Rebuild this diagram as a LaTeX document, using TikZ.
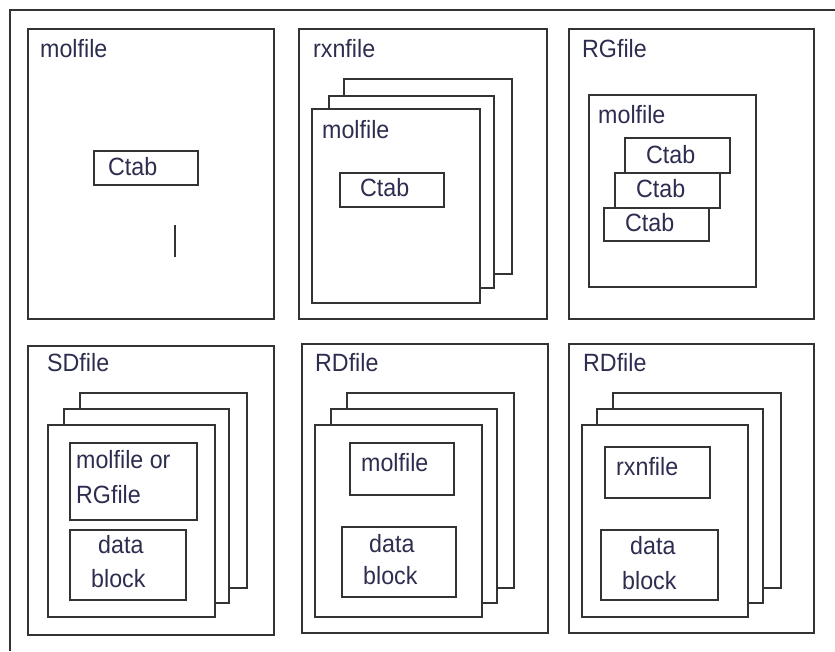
\documentclass[tikz,border=0pt]{standalone}
\usepackage{fontspec}
\setmainfont{Liberation Sans}[FakeStretch=0.93]
\definecolor{lncol}{RGB}{51,51,51}
\definecolor{txcol}{RGB}{45,45,80}
\tikzset{
  pbox/.style={draw=lncol, line width=1.9pt, inner sep=0pt, anchor=north west},
  sheet/.style={draw=lncol, line width=1.9pt},
  lbl/.style={inner sep=0pt, anchor=base west, text=txcol, font=\fontsize{25}{29}\selectfont},
}
\newcommand\mybox[5]{%
  \pgfmathsetmacro\bw{#4-#2}\pgfmathsetmacro\bh{#5-#3}%
  \node[pbox, minimum width=\bw pt, minimum height=\bh pt] (#1) at (#2,#3) {};}
\begin{document}
\begin{tikzpicture}[x=1pt,y=-1pt]
\useasboundingbox (0,0) rectangle (835,651);
% outer frame (only top and left visible)
\coordinate (fbl) at (10,651);
\coordinate (ftl) at (10,10);
\coordinate (ftr) at (835,10);
\draw[sheet] (fbl) -- (ftl) -- (ftr);

% ---- panel 1: molfile
\mybox{p1}{27}{28}{273}{318}
\node[lbl] (t1) at (40,57) {molfile};
\mybox{p1c}{93}{150}{197}{184}
\node[lbl] (t1c) at (108,175) {Ctab};
\coordinate (bar1) at (175,225);
\coordinate (bar2) at (175,257);
\draw[sheet] (bar1) -- (bar2);

% ---- panel 2: rxnfile
\mybox{p2}{298}{28}{546}{318}
\node[lbl] (t2) at (313,57) {rxnfile};
\draw[sheet] (344,96) -- (344,79) -- (512,79) -- (512,274) -- (494,274);
\draw[sheet] (329,108) -- (329,96) -- (494,96) -- (494,288) -- (479,288);
\mybox{p2f}{311}{108}{479}{302}
\node[lbl] (t2m) at (322,138) {molfile};
\mybox{p2c}{339}{172}{443}{206}
\node[lbl] (t2c) at (360,196) {Ctab};

% ---- panel 3: RGfile
\mybox{p3}{568}{28}{813}{318}
\node[lbl] (t3) at (582,57) {RGfile};
\mybox{p3m}{588}{94}{755}{286}
\node[lbl] (t3m) at (598,123) {molfile};
\mybox{p3a}{624}{137}{729}{172}
\mybox{p3b}{614}{172}{719}{207}
\mybox{p3c}{603}{207}{708}{240}
\node[lbl] (t3a) at (646,163) {Ctab};
\node[lbl] (t3b) at (636,197) {Ctab};
\node[lbl] (t3c) at (625,231) {Ctab};

% ---- panel 4: SDfile
\mybox{p4}{27}{345}{273}{634}
\node[lbl] (t4) at (47,371) {SDfile};
\draw[sheet] (80,409) -- (80,393) -- (247,393) -- (247,588) -- (229,588);
\draw[sheet] (64,424) -- (64,409) -- (229,409) -- (229,603) -- (214,603);
\mybox{p4f}{47}{424}{214}{616}
\mybox{p4m}{69}{442}{196}{519}
\node[lbl] (t4m1) at (76,468) {molfile or};
\node[lbl] (t4m2) at (76,503) {RGfile};
\mybox{p4d}{69}{529}{185}{599}
\node[lbl] (t4d1) at (98,553) {data};
\node[lbl] (t4d2) at (91,587) {block};

% ---- panel 5: RDfile (molfile)
\mybox{p5}{301}{343}{547}{632}
\node[lbl] (t5) at (315,371) {RDfile};
\draw[sheet] (347,409) -- (347,393) -- (514,393) -- (514,588) -- (497,588);
\draw[sheet] (331,424) -- (331,409) -- (497,409) -- (497,603) -- (481,603);
\mybox{p5f}{314}{424}{481}{616}
\mybox{p5m}{349}{442}{453}{494}
\node[lbl] (t5m) at (361,471) {molfile};
\mybox{p5d}{341}{526}{455}{596}
\node[lbl] (t5d1) at (369,552) {data};
\node[lbl] (t5d2) at (363,584) {block};

% ---- panel 6: RDfile (rxnfile)
\mybox{p6}{568}{343}{813}{632}
\node[lbl] (t6) at (583,371) {RDfile};
\draw[sheet] (613,409) -- (613,393) -- (781,393) -- (781,588) -- (763,588);
\draw[sheet] (597,424) -- (597,409) -- (763,409) -- (763,603) -- (747,603);
\mybox{p6f}{581}{424}{747}{616}
\mybox{p6r}{604}{446}{709}{497}
\node[lbl] (t6r) at (616,475) {rxnfile};
\mybox{p6d}{600}{529}{717}{599}
\node[lbl] (t6d1) at (630,554) {data};
\node[lbl] (t6d2) at (622,589) {block};
\end{tikzpicture}
\end{document}
